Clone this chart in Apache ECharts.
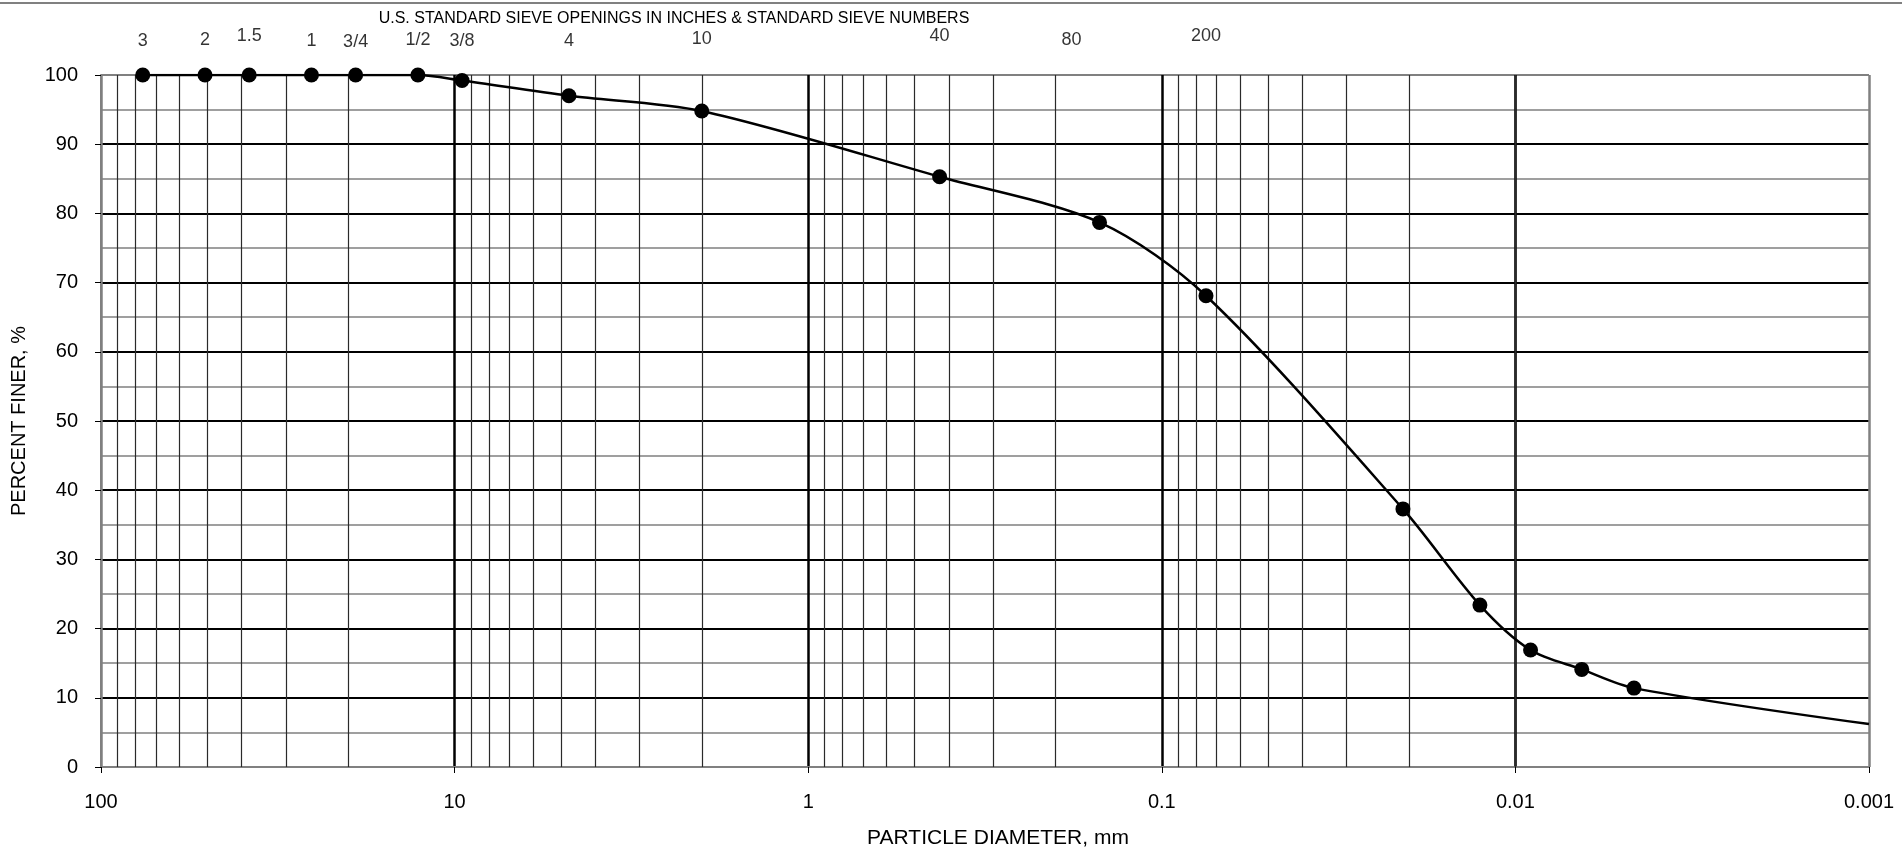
<!DOCTYPE html>
<html>
<head>
<meta charset="utf-8">
<script src="https://cdn.jsdelivr.net/npm/echarts@6/dist/echarts.min.js"></script>
<style>
html,body{margin:0;padding:0;background:#fff;}
#chart{width:1902px;height:861px;}
</style>
</head>
<body>
<div id="chart"></div>
<script>
// ---- data ----
var diameters = [76.2, 50.8, 38.1, 25.4, 19.05, 12.7, 9.525, 4.75, 2.0, 0.425, 0.15, 0.075, 0.0208, 0.0126, 0.00906, 0.00649, 0.00462];
var percentFiner = [100, 100, 100, 100, 100, 100, 99.2, 97.0, 94.8, 85.3, 78.7, 68.1, 37.3, 23.4, 16.9, 14.1, 11.4];
var curveEndDiameter = 0.001;
var curveEndPercent = 6.2;

var sieveLabels = ['3', '2', '1.5', '1', '3/4', '1/2', '3/8', '4', '10', '40', '80', '200'];
var sieveSizes = [76.2, 50.8, 38.1, 25.4, 19.05, 12.7, 9.525, 4.75, 2.0, 0.425, 0.18, 0.075];
var sieveLabelLift = [24, 25, 29, 24, 23, 25, 24, 24, 26, 29, 25, 29];

var xTickValues = [100, 10, 1, 0.1, 0.01, 0.001];
var xTickLabels = ['100', '10', '1', '0.1', '0.01', '0.001'];
var yTickLabels = ['0','10','20','30','40','50','60','70','80','90','100'];

var topTitle = 'U.S. STANDARD SIEVE OPENINGS IN INCHES & STANDARD SIEVE NUMBERS';
var xName = 'PARTICLE DIAMETER, mm';
var yName = 'PERCENT FINER, %';

// ---- build ----
var FONT = '"Liberation Sans", Arial, sans-serif';

var minorX = [];
for (var e = -3; e < 2; e++) {
  for (var m = 2; m <= 9; m++) {
    minorX.push(Number((m * Math.pow(10, e)).toPrecision(3)));
  }
}

var curveData = diameters.map(function (d, i) { return [d, percentFiner[i]]; });
curveData.push({ value: [curveEndDiameter, curveEndPercent], symbol: 'none' });

var sieveData = sieveSizes.map(function (s, i) {
  return {
    value: [s, 100],
    label: { formatter: sieveLabels[i], distance: sieveLabelLift[i] }
  };
});

var hColors = yTickLabels.map(function (t, i) {
  return (i === 0 || i === yTickLabels.length - 1) ? '#808080' : '#000000';
});
var vColors = xTickValues.map(function (t, i) {
  return (i === 0 || i === xTickValues.length - 1) ? '#808080' : '#000000';
});

var chart = echarts.init(document.getElementById('chart'), null, { renderer: 'canvas' });

chart.setOption({
  animation: false,
  backgroundColor: '#ffffff',
  textStyle: { fontFamily: FONT, color: '#000' },
  graphic: [
    { type: 'line', shape: { x1: 0, y1: 3, x2: 1902, y2: 3 }, style: { stroke: '#808080', lineWidth: 2 }, z: 10 },
    { type: 'text', x: 674, y: 19, style: { text: topTitle, font: '16px ' + FONT, fill: '#000', textAlign: 'center', textVerticalAlign: 'middle' } }
  ],
  grid: { left: 101, right: 33, top: 75, bottom: 94, containLabel: false },
  xAxis: {
    type: 'log',
    logBase: 10,
    min: 0.001,
    max: 100,
    inverse: true,
    splitNumber: 5,
    name: xName,
    nameLocation: 'middle',
    nameGap: 61,
    nameTextStyle: { fontSize: 21, color: '#000', fontFamily: FONT, padding: [0, 0, 0, 26] },
    axisLine: { show: true, onZero: false, lineStyle: { color: '#808080', width: 2 } },
    axisTick: { show: true, length: 6, lineStyle: { color: '#000', width: 1 } },
    axisLabel: {
      fontSize: 20, color: '#000', margin: 25, fontFamily: FONT,
      formatter: function (v) {
        var idx = Math.round(2 - Math.log10(v));
        return xTickLabels[idx] !== undefined ? xTickLabels[idx] : '';
      }
    },
    splitLine: { show: true, lineStyle: { color: vColors, width: 2.5 } },
    minorTick: { show: false },
    minorSplitLine: { show: false }
  },
  yAxis: {
    type: 'value',
    min: 0,
    max: 100,
    interval: 10,
    name: yName,
    nameLocation: 'middle',
    nameGap: 72,
    nameRotate: 90,
    nameTextStyle: { fontSize: 20, color: '#000', fontFamily: FONT },
    axisLine: { show: true, lineStyle: { color: '#808080', width: 2 } },
    axisTick: { show: true, length: 6, lineStyle: { color: '#000', width: 1 } },
    axisLabel: {
      fontSize: 20, color: '#000', margin: 23, fontFamily: FONT,
      formatter: function (v) { return yTickLabels[Math.round(v / 10)]; }
    },
    splitLine: { show: true, lineStyle: { color: hColors, width: 2 } },
    minorTick: { show: false, splitNumber: 2 },
    minorSplitLine: { show: true, lineStyle: { color: '#808080', width: 1.5 } }
  },
  series: [
    {
      type: 'scatter',
      data: [],
      silent: true,
      z: 1,
      markLine: {
        silent: true,
        animation: false,
        symbol: ['none', 'none'],
        label: { show: false },
        lineStyle: { color: '#2a2a2a', width: 1.2, type: 'solid' },
        emphasis: { disabled: true },
        data: minorX.map(function (v) { return { xAxis: v }; })
      }
    },
    {
      type: 'line',
      data: curveData,
      smooth: 0.3,
      symbol: 'circle',
      symbolSize: 15,
      showAllSymbol: true,
      lineStyle: { color: '#000', width: 2.5 },
      itemStyle: { color: '#000' },
      z: 5,
      silent: true
    },
    {
      type: 'scatter',
      data: sieveData,
      symbolSize: 1,
      itemStyle: { color: 'rgba(0,0,0,0)' },
      clip: false,
      silent: true,
      label: { show: true, position: 'top', fontSize: 18, color: '#000', fontFamily: FONT },
      z: 6
    }
  ]
});
</script>
</body>
</html>
